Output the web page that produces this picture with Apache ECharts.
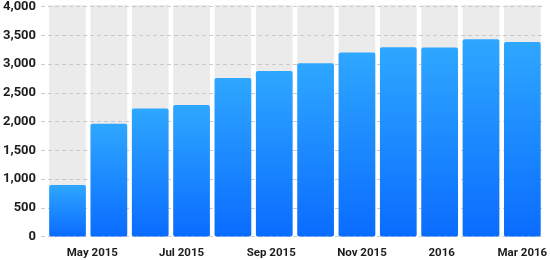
<!DOCTYPE html>
<html>
<head>
<meta charset="utf-8">
<script src="https://cdn.jsdelivr.net/npm/echarts@6/dist/echarts.min.js"></script>
<style>html,body{margin:0;padding:0;background:#fff;}#chart{width:550px;height:260px;}</style>
</head>
<body>
<div id="chart"></div>
<script>
var categories = ['Apr 2015','May 2015','Jun 2015','Jul 2015','Aug 2015','Sep 2015','Oct 2015','Nov 2015','Dec 2015','Jan 2016','Feb 2016','Mar 2016'];
var values = [890, 1950, 2210, 2270, 2740, 2860, 2995, 3180, 3270, 3265, 3410, 3360];
var tickLabels = ['', 'May 2015', '', 'Jul 2015', '', 'Sep 2015', '', 'Nov 2015', '', '2016', '', 'Mar 2016'];
var yMax = 4000;
var yStep = 500;

var labelShift = {1:[0,33,0,0],3:[0,20,0,0],5:[0,6,0,0],7:[0,0,0,10],9:[0,0,0,4],11:[0,0,0,0]};
var rich = {};
Object.keys(labelShift).forEach(function(k){
  rich['s'+k] = {padding: labelShift[k], fontFamily:'Roboto', fontWeight:'bold', fontSize:11.5, color:'#1c1c1c'};
});

var chart = echarts.init(document.getElementById('chart'), null, {renderer:'canvas'});
chart.setOption({
  animation:false,
  grid:[
    {left:37, right:5, top:5, bottom:23.5},
    {left:46.85, right:2.8, top:5, bottom:23.5}
  ],
  xAxis:[
    {gridIndex:0, type:'category', data:categories, show:false},
    {gridIndex:1, type:'category', data:categories,
     axisLine:{show:false}, axisTick:{show:false}, splitLine:{show:false},
     axisLabel:{
       interval:function(i){return i%2===1;},
       hideOverlap:false,
       margin:11,
       fontFamily:'Roboto', fontWeight:'bold', fontSize:11.5, color:'#1c1c1c',
       formatter:function(v, i){ return tickLabels[i] ? '{s'+i+'|'+tickLabels[i]+'}' : ''; },
       rich:rich
     }}
  ],
  yAxis:[
    {gridIndex:0, type:'value', min:0, max:yMax, interval:yStep, z:2,
     axisLine:{show:false}, axisTick:{show:false},
     axisLabel:{margin:5, fontFamily:'Roboto', fontWeight:'bold', fontSize:13, color:'#1c1c1c',
       formatter:function(v){return v.toLocaleString('en-US');}},
     splitLine:{show:true, lineStyle:{color:'#cacaca', type:[4,3], width:1}}},
    {gridIndex:1, type:'value', min:0, max:yMax, interval:yStep, show:false, splitLine:{show:false}}
  ],
  series:[
    {type:'bar', xAxisIndex:1, yAxisIndex:1, data:values, barWidth:36.7, z:1,
     itemStyle:{color:'rgba(0,0,0,0)'},
     showBackground:true, backgroundStyle:{color:'#ebebeb', borderRadius:1}},
    {type:'bar', xAxisIndex:1, yAxisIndex:1, data:values, barWidth:36.7, barGap:'-100%', z:3,
     itemStyle:{borderRadius:2, color:new echarts.graphic.LinearGradient(0,0,0,1,[
       {offset:0,color:'#2ea7ff'},{offset:1,color:'#0a6cff'}])}}
  ]
});
</script>
</body>
</html>
